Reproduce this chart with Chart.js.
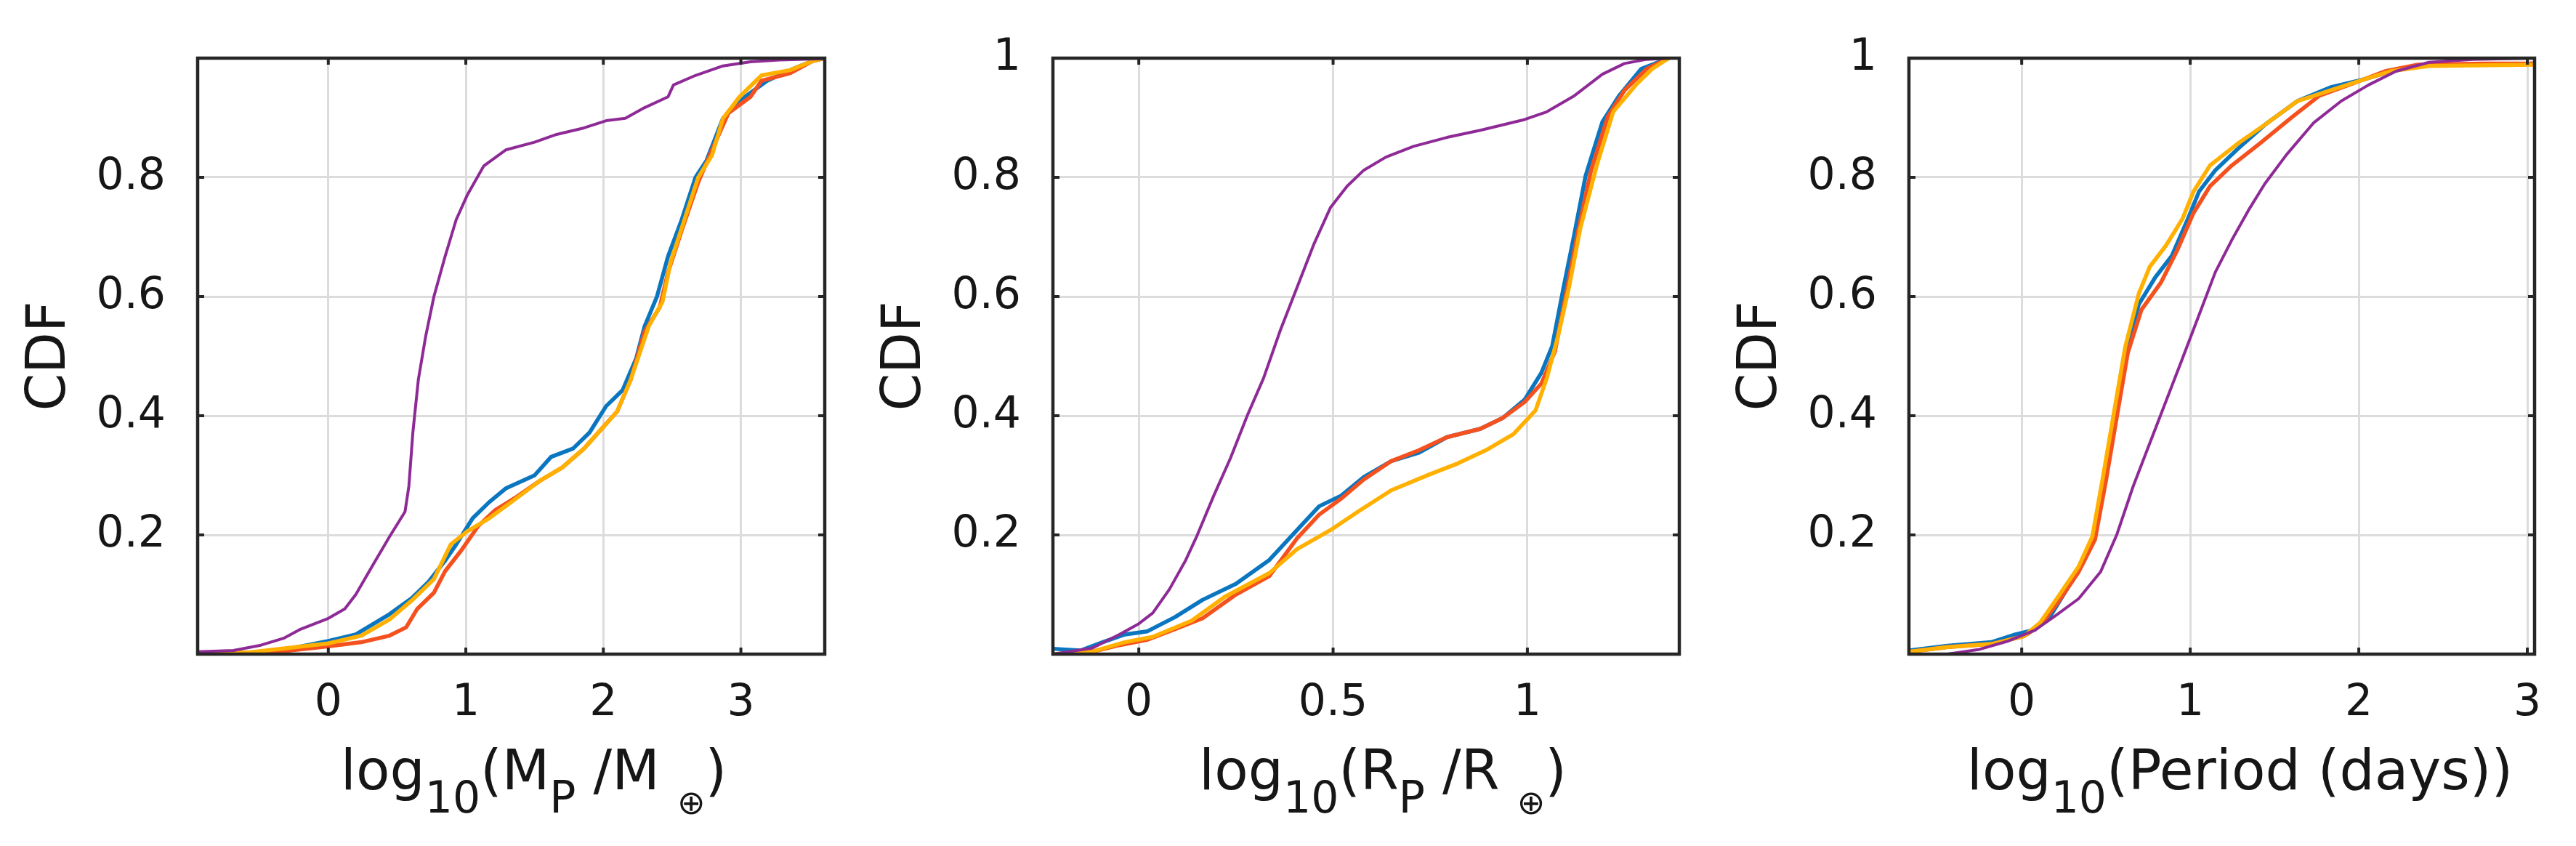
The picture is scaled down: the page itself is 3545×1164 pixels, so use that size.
<!DOCTYPE html>
<html>
<head>
<meta charset="utf-8">
<script src="https://cdn.jsdelivr.net/npm/chart.js@4.4.1/dist/chart.umd.min.js"></script>
<style>
  html, body { margin: 0; padding: 0; background: #ffffff; }
  body { width: 3545px; height: 1164px; position: relative; overflow: hidden; }
  canvas { position: absolute; top: 0; }
</style>
</head>
<body>
<canvas id="c1" width="1182" height="1164" style="left:0px"></canvas>
<canvas id="c2" width="1182" height="1164" style="left:1182px"></canvas>
<canvas id="c3" width="1182" height="1164" style="left:2363px"></canvas>
<script>
// ---------- DATA ----------
const seriesNames = ['Series 1', 'Series 2', 'Series 3', 'Series 4'];

// Panel 1: log10(Mp/Me)
const massBlue = [[-0.95,0],[-0.44,0.003],[-0.2,0.013],[0,0.022],[0.2,0.033],[0.445,0.067],[0.607,0.094],[0.728,0.121],[0.85,0.157],[0.93,0.184],[1.05,0.228],[1.17,0.255],[1.29,0.278],[1.5,0.3],[1.62,0.331],[1.78,0.345],[1.9,0.372],[2.02,0.416],[2.14,0.443],[2.24,0.497],[2.3,0.55],[2.39,0.6],[2.47,0.667],[2.57,0.729],[2.67,0.8],[2.75,0.828],[2.87,0.899],[3.03,0.935],[3.19,0.962],[3.36,0.98],[3.52,0.995],[3.61,1]];
const massRed = [[-0.95,0],[-0.4,0.003],[0,0.013],[0.24,0.02],[0.445,0.031],[0.566,0.045],[0.647,0.076],[0.768,0.103],[0.849,0.139],[0.97,0.175],[1.09,0.215],[1.21,0.241],[1.37,0.264],[1.54,0.291],[1.7,0.313],[1.86,0.345],[1.98,0.376],[2.1,0.407],[2.2,0.461],[2.3,0.541],[2.41,0.582],[2.47,0.64],[2.57,0.711],[2.69,0.792],[2.79,0.846],[2.91,0.908],[3.07,0.935],[3.15,0.962],[3.36,0.975],[3.52,0.995],[3.61,1]];
const massYellow = [[-0.95,0],[-0.57,0.003],[0,0.018],[0.24,0.031],[0.445,0.058],[0.607,0.09],[0.768,0.126],[0.89,0.184],[1.01,0.206],[1.17,0.228],[1.33,0.255],[1.54,0.291],[1.7,0.313],[1.86,0.345],[1.98,0.376],[2.1,0.407],[2.2,0.461],[2.33,0.55],[2.43,0.591],[2.49,0.658],[2.59,0.729],[2.69,0.8],[2.79,0.837],[2.87,0.899],[2.99,0.935],[3.15,0.971],[3.36,0.98],[3.52,0.995],[3.61,1]];
const massPurple = [[-0.95,0.004],[-0.69,0.006],[-0.49,0.015],[-0.32,0.027],[-0.2,0.042],[0,0.06],[0.12,0.076],[0.2,0.1],[0.32,0.148],[0.445,0.197],[0.558,0.239],[0.586,0.282],[0.615,0.372],[0.655,0.461],[0.708,0.533],[0.768,0.6],[0.849,0.667],[0.93,0.729],[1.01,0.77],[1.13,0.819],[1.29,0.846],[1.5,0.859],[1.66,0.872],[1.86,0.883],[2.02,0.895],[2.16,0.899],[2.3,0.917],[2.47,0.935],[2.51,0.955],[2.67,0.971],[2.87,0.987],[3.07,0.994],[3.28,0.997],[3.61,0.999]];

// Panel 2: log10(Rp/Re)
const radiusBlue = [[-0.22,0.009],[-0.15,0.006],[-0.093,0.02],[-0.036,0.033],[0.021,0.038],[0.093,0.062],[0.164,0.091],[0.25,0.118],[0.336,0.158],[0.407,0.208],[0.464,0.248],[0.521,0.266],[0.579,0.297],[0.65,0.324],[0.721,0.338],[0.793,0.364],[0.879,0.378],[0.936,0.396],[0.993,0.427],[1.036,0.472],[1.064,0.517],[1.093,0.615],[1.121,0.705],[1.15,0.803],[1.193,0.893],[1.236,0.937],[1.293,0.982],[1.364,1]];
const radiusRed = [[-0.22,0],[-0.12,0.004],[-0.05,0.015],[0.021,0.024],[0.093,0.042],[0.164,0.06],[0.25,0.1],[0.336,0.131],[0.407,0.194],[0.464,0.234],[0.521,0.261],[0.579,0.293],[0.65,0.324],[0.721,0.342],[0.793,0.364],[0.879,0.378],[0.936,0.396],[0.993,0.423],[1.036,0.454],[1.071,0.508],[1.1,0.606],[1.129,0.705],[1.164,0.812],[1.207,0.902],[1.25,0.946],[1.307,0.982],[1.364,1]];
const radiusYellow = [[-0.22,0],[-0.12,0.004],[-0.036,0.02],[0.036,0.029],[0.136,0.056],[0.221,0.096],[0.336,0.136],[0.407,0.176],[0.493,0.208],[0.564,0.239],[0.65,0.275],[0.75,0.302],[0.821,0.32],[0.893,0.342],[0.964,0.369],[1.021,0.409],[1.05,0.463],[1.079,0.534],[1.107,0.615],[1.136,0.714],[1.179,0.821],[1.221,0.91],[1.279,0.955],[1.321,0.982],[1.364,1]];
const radiusPurple = [[-0.22,0],[-0.12,0.01],[-0.05,0.033],[0,0.051],[0.036,0.069],[0.079,0.109],[0.121,0.158],[0.15,0.199],[0.193,0.266],[0.236,0.329],[0.279,0.4],[0.321,0.463],[0.364,0.543],[0.407,0.615],[0.45,0.687],[0.493,0.749],[0.536,0.785],[0.579,0.812],[0.636,0.834],[0.707,0.852],[0.793,0.867],[0.879,0.879],[0.993,0.897],[1.05,0.91],[1.121,0.937],[1.193,0.973],[1.25,0.991],[1.307,0.998],[1.364,1]];

// Panel 3: log10(Period (days))
const periodBlue = [[-0.669,0.006],[-0.44,0.014],[-0.18,0.02],[-0.05,0.032],[0.078,0.041],[0.175,0.066],[0.273,0.111],[0.37,0.156],[0.435,0.201],[0.5,0.3],[0.565,0.408],[0.63,0.515],[0.695,0.587],[0.792,0.632],[0.89,0.668],[0.987,0.731],[1.052,0.776],[1.149,0.812],[1.279,0.847],[1.442,0.888],[1.636,0.928],[1.831,0.951],[2.026,0.964],[2.188,0.978],[2.416,0.989],[2.74,0.989],[3.04,0.991]];
const periodRed = [[-0.669,0.004],[-0.44,0.012],[-0.18,0.017],[0.013,0.03],[0.11,0.048],[0.208,0.084],[0.338,0.138],[0.435,0.192],[0.5,0.291],[0.565,0.399],[0.63,0.506],[0.711,0.578],[0.825,0.623],[0.922,0.677],[1.019,0.74],[1.117,0.785],[1.247,0.82],[1.409,0.856],[1.604,0.901],[1.766,0.937],[1.961,0.957],[2.156,0.978],[2.351,0.989],[2.74,0.991],[3.04,0.991]];
const periodYellow = [[-0.669,0.004],[-0.44,0.012],[-0.18,0.017],[0.013,0.03],[0.11,0.053],[0.208,0.093],[0.338,0.147],[0.419,0.197],[0.484,0.3],[0.549,0.408],[0.614,0.515],[0.695,0.605],[0.76,0.65],[0.857,0.686],[0.955,0.731],[1.019,0.776],[1.117,0.82],[1.279,0.856],[1.442,0.888],[1.636,0.928],[1.831,0.946],[2.026,0.964],[2.188,0.978],[2.416,0.987],[3.04,0.989]];
const periodPurple = [[-0.669,0],[-0.44,0],[-0.25,0.008],[-0.08,0.022],[0.078,0.04],[0.208,0.066],[0.338,0.093],[0.468,0.138],[0.565,0.201],[0.662,0.282],[0.76,0.354],[0.857,0.425],[0.955,0.497],[1.052,0.569],[1.149,0.641],[1.247,0.695],[1.344,0.744],[1.442,0.789],[1.571,0.838],[1.734,0.892],[1.896,0.928],[2.058,0.955],[2.221,0.978],[2.416,0.993],[2.675,0.998],[3.04,1]];

// Axis ranges and ticks
const massRange = [-0.95, 3.61];
const radiusRange = [-0.221, 1.391];
const periodRange = [-0.669, 3.043];
const massTicks = [0, 1, 2, 3];
const massTickLabels = ['0', '1', '2', '3'];
const radiusTicks = [0, 0.5, 1];
const radiusTickLabels = ['0', '0.5', '1'];
const periodTicks = [0, 1, 2, 3];
const periodTickLabels = ['0', '1', '2', '3'];
const cdfTicks = [0, 0.2, 0.4, 0.6, 0.8, 1];
const cdfTickLabelsMass = ['', '0.2', '0.4', '0.6', '0.8', ''];
const cdfTickLabels = ['', '0.2', '0.4', '0.6', '0.8', '1'];
const yAxisTitle = 'CDF';
const massTitleRuns = [['m','log'],['s','10'],['m','(M'],['s','P'],['m',' /M '],['o','\u2295'],['m',')']];
const radiusTitleRuns = [['m','log'],['s','10'],['m','(R'],['s','P'],['m',' /R '],['o','\u2295'],['m',')']];
const periodTitleRuns = [['m','log'],['s','10'],['m','(Period (days))']];

// ---------- STYLE ----------
const FONT = '"DejaVu Sans", "Liberation Sans", sans-serif';
const colors = ['#0a76c0', '#f4511e', '#ffb000', '#8e2a96'];
const widths = [5.5, 5.5, 5.5, 4];
const drawOrder = [3, 2, 1, 0];
const TEXT = '#161616';

const boxPlugin = {
  id: 'boxTicks',
  afterDraw(chart) {
    const ctx = chart.ctx, a = chart.chartArea;
    const xs = chart.scales.x, ys = chart.scales.y;
    ctx.save();
    ctx.strokeStyle = '#262626';
    ctx.lineWidth = 4;
    ctx.lineCap = 'butt';
    const tl = 9;
    ctx.beginPath();
    xs.ticks.forEach(t => {
      const px = xs.getPixelForValue(t.value);
      ctx.moveTo(px, a.bottom); ctx.lineTo(px, a.bottom - tl);
      ctx.moveTo(px, a.top); ctx.lineTo(px, a.top + tl);
    });
    ys.ticks.forEach(t => {
      const py = ys.getPixelForValue(t.value);
      ctx.moveTo(a.left, py); ctx.lineTo(a.left + tl, py);
      ctx.moveTo(a.right, py); ctx.lineTo(a.right - tl, py);
    });
    ctx.stroke();
    ctx.lineWidth = 4.5;
    ctx.strokeRect(a.left, a.top, a.right - a.left, a.bottom - a.top);
    ctx.restore();
  }
};

const xTitlePlugin = {
  id: 'xTitle',
  afterDraw(chart, args, opts) {
    const ctx = chart.ctx, a = chart.chartArea;
    const size = { m: 76, s: 60, o: 46 };
    const dy = { m: 0, s: 32, o: 34 };
    const runs = opts.runs.map(r => ({ k: r[0], t: r[1] }));
    let total = 0;
    runs.forEach(r => {
      ctx.font = size[r.k] + 'px ' + FONT;
      r.w = ctx.measureText(r.t).width;
      total += r.w;
    });
    let x = (a.left + a.right) / 2 + opts.shift - total / 2;
    const base = a.bottom + 186;
    ctx.save();
    ctx.fillStyle = TEXT;
    ctx.textAlign = 'left';
    ctx.textBaseline = 'alphabetic';
    runs.forEach(r => {
      ctx.font = size[r.k] + 'px ' + FONT;
      ctx.fillText(r.t, x, base + dy[r.k]);
      x += r.w;
    });
    ctx.restore();
  }
};

function makeChart(id, series, range, xTicks, xLabels, yLabels, runs, padL, padR, shift) {
  const datasets = series.map((s, i) => ({
    label: seriesNames[i],
    data: s.map(p => ({ x: p[0], y: p[1] })),
    borderColor: colors[i],
    backgroundColor: colors[i],
    borderWidth: widths[i],
    pointRadius: 0,
    tension: 0,
    fill: false,
    order: drawOrder[i],
    borderJoinStyle: 'round',
    borderCapStyle: 'round'
  }));
  return new Chart(document.getElementById(id), {
    type: 'line',
    data: { datasets },
    plugins: [boxPlugin, xTitlePlugin],
    options: {
      responsive: false,
      devicePixelRatio: 1,
      animation: false,
      layout: { padding: { left: padL, right: padR, top: 74, bottom: 114 } },
      plugins: {
        legend: { display: false },
        tooltip: { enabled: false },
        xTitle: { runs: runs, shift: shift }
      },
      scales: {
        x: {
          type: 'linear',
          position: 'bottom',
          min: range[0],
          max: range[1],
          afterBuildTicks: s => { s.ticks = xTicks.map(v => ({ value: v })); },
          afterFit: s => { s.height = 150; },
          grid: { color: '#dcdcdc', lineWidth: 3, drawTicks: false },
          border: { display: false },
          ticks: {
            autoSkip: false, maxRotation: 0, padding: 32,
            color: TEXT, font: { family: FONT, size: 60 },
            callback: (v, i) => xLabels[i]
          }
        },
        y: {
          type: 'linear',
          position: 'left',
          min: 0,
          max: 1,
          afterBuildTicks: s => { s.ticks = cdfTicks.map(v => ({ value: v })); },
          afterFit: s => { s.width = 247; },
          grid: { color: '#dcdcdc', lineWidth: 3, drawTicks: false },
          border: { display: false },
          ticks: {
            autoSkip: false, padding: 44,
            color: TEXT, font: { family: FONT, size: 60 },
            callback: (v, i) => yLabels[i]
          },
          title: {
            display: true, text: yAxisTitle, color: TEXT,
            font: { family: FONT, size: 74 }, padding: { top: 0, bottom: 0 }
          }
        }
      }
    }
  });
}

makeChart('c1', [massBlue, massRed, massYellow, massPurple], massRange, massTicks, massTickLabels, cdfTickLabelsMass, massTitleRuns, 25, 47, 31);
makeChart('c2', [radiusBlue, radiusRed, radiusYellow, radiusPurple], radiusRange, radiusTicks, radiusTickLabels, cdfTickLabels, radiusTitleRuns, 20, 53, 23);
makeChart('c3', [periodBlue, periodRed, periodYellow, periodPurple], periodRange, periodTicks, periodTickLabels, cdfTickLabels, periodTitleRuns, 17, 57, 25);
</script>
</body>
</html>
